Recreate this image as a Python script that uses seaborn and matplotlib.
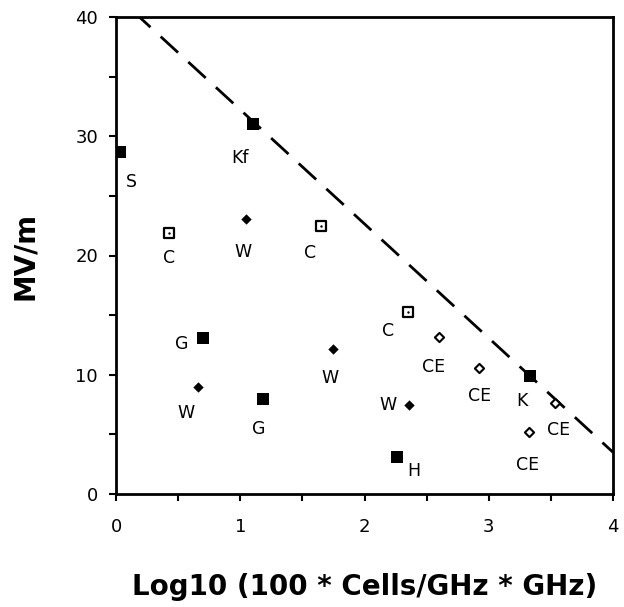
import matplotlib
matplotlib.use("Agg")
import matplotlib.pyplot as plt
import seaborn as sns
import pandas as pd

# ---- data ----
point_x = [0.03, 1.10, 0.43, 1.05, 1.65, 0.70, 0.66, 1.18, 1.75, 2.35, 2.60, 2.92, 3.33, 3.53, 3.32, 2.36, 2.26]
point_y = [28.7, 31.0, 21.9, 23.1, 22.5, 13.1, 9.0, 8.0, 12.2, 15.3, 13.2, 10.6, 9.9, 7.6, 5.2, 7.5, 3.1]
point_labels = ["S", "Kf", "C", "W", "C", "G", "W", "G", "W", "C", "CE", "CE", "K", "CE", "CE", "W", "H"]
point_kind = ["filled_sq", "filled_sq", "open_sq", "diamond", "open_sq", "filled_sq", "diamond", "filled_sq",
              "diamond", "open_sq", "open_dia", "open_dia", "filled_sq", "open_dia", "open_dia", "diamond", "filled_sq"]

limit_x = [0.0, 4.0]
limit_y = [41.8, 3.5]

x_ticks = [0, 1, 2, 3, 4]
y_ticks = [0, 10, 20, 30, 40]

# label offsets in pixels (layout only)
label_dx = [12, -13, 0, -3, -11, -21, -12, -4, -3, -20, -5, 1, -8, 4, -1, -21, 17]
label_dy = [30, 34, 25, 33, 27, 6, 26, 30, 29, 19, 30, 28, 25, 27, 33, 0, 14]

df = pd.DataFrame({"x": point_x, "y": point_y, "label": point_labels, "kind": point_kind})
line_df = pd.DataFrame({"x": limit_x, "y": limit_y})

sns.set_style("ticks")
plt.rcParams["font.family"] = ["DejaVu Sans"]
plt.rcParams["text.color"] = "black"
plt.rcParams["axes.labelcolor"] = "black"
plt.rcParams["xtick.color"] = "black"
plt.rcParams["ytick.color"] = "black"

fig = plt.figure(figsize=(6.24, 6.07), dpi=100)
ax = fig.add_axes([116 / 624, 113 / 607, (613 - 116) / 624, (494 - 17) / 607])

sns.lineplot(data=line_df, x="x", y="y", ax=ax, color="black", linewidth=2.0,
             dashes=False, linestyle=(7, (8.5, 5)))

fs = df[df.kind == "filled_sq"]
sns.scatterplot(data=fs, x="x", y="y", ax=ax, marker="s", s=75, color="black",
                edgecolor="black", linewidth=0, zorder=5)
osq = df[df.kind == "open_sq"]
sns.scatterplot(data=osq, x="x", y="y", ax=ax, marker="s", s=55, facecolor="white",
                edgecolor="black", linewidth=1.6, zorder=5)
sns.scatterplot(data=osq, x="x", y="y", ax=ax, marker="o", s=3, color="black",
                edgecolor="black", linewidth=0, zorder=6)
dia = df[df.kind == "diamond"]
sns.scatterplot(data=dia, x="x", y="y", ax=ax, marker="D", s=28, color="black",
                edgecolor="black", linewidth=0, zorder=5)
od = df[df.kind == "open_dia"]
sns.scatterplot(data=od, x="x", y="y", ax=ax, marker="D", s=22, facecolor="white",
                edgecolor="black", linewidth=1.5, zorder=5)

for xv, yv, lab, dx, dy in zip(point_x, point_y, point_labels, label_dx, label_dy):
    ax.annotate(lab, (xv, yv), xytext=(dx, -dy), textcoords="offset pixels",
                ha="center", va="center", fontsize=12.5, color="black")

ax.set_xlim(0, 4)
ax.set_ylim(0, 40)
ax.set_xticks(x_ticks)
ax.set_yticks(y_ticks)
ax.set_xticks([0.5, 1.5, 2.5, 3.5], minor=True)
ax.set_yticks([5, 15, 25, 35], minor=True)
ax.tick_params(axis="both", which="both", direction="out", length=5, width=1.5,
               labelsize=13, colors="black")
ax.tick_params(axis="x", pad=12)
ax.tick_params(axis="y", pad=8)
for sp in ax.spines.values():
    sp.set_visible(True)
    sp.set_linewidth(2)
    sp.set_color("black")

ax.set_xlabel("Log10 (100 * Cells/GHz * GHz)", fontsize=20, fontweight="bold", labelpad=27)
ax.set_ylabel("MV/m", fontsize=20, fontweight="bold", labelpad=26)

fig.savefig("out.png", dpi=100)
